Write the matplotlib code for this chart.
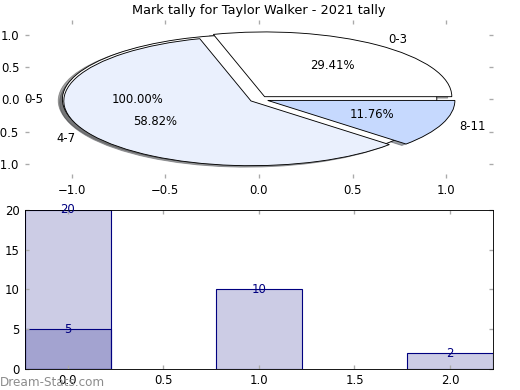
import matplotlib
matplotlib.use('Agg')
import matplotlib.pyplot as plt

# pie data
outer_labels = ['0-5']
outer_values = [17]
pie_labels = ['0-3', '4-7', '8-11']
pie_values = [5, 10, 2]
pie_colors = ['white', '#eaf0fd', '#c6d9fe']

# bar data
bar_x = [0, 1, 2]
bar_values = [20, 10, 2]
bar_x2 = [0]
bar_values2 = [5]

plt.rcParams['font.size'] = 10.5

fig = plt.figure(figsize=(6.5, 4.875), dpi=80)
ax1 = fig.add_axes([0.048, 0.543, 0.900, 0.405])
ax2 = fig.add_axes([0.048, 0.054, 0.900, 0.408])

# 饼图
wp = dict(edgecolor='black', linewidth=0.8)
ax1.pie(outer_values, labels=outer_labels, explode=[0.05], colors=['white'],
        autopct='%.2f%%', shadow=True, frame=True, wedgeprops=wp)
ax1.pie(pie_values, labels=pie_labels, explode=[0.05] * 3, colors=pie_colors,
        autopct='%.2f%%', shadow=True, frame=True, wedgeprops=wp)
ax1.set_aspect('auto')
ax1.set_xlim(-1.25, 1.25)
ax1.set_ylim(-1.22, 1.22)
ax1.set_xticks([-1.0, -0.5, 0.0, 0.5, 1.0])
ax1.set_yticks([-1.0, -0.5, 0.0, 0.5, 1.0])
for s in ax1.spines.values():
    s.set_visible(False)
ax1.set_title('Mark tally for Taylor Walker - 2021 tally', fontsize=11.6)

# 柱状图
ax2.bar(bar_x, bar_values, width=0.45, color='navy', alpha=0.2)
ax2.bar(bar_x, bar_values, width=0.45, fill=False, edgecolor='navy', linewidth=1)
ax2.bar(bar_x2, bar_values2, width=0.45, color='navy', alpha=0.2)
ax2.bar(bar_x2, bar_values2, width=0.45, fill=False, edgecolor='navy', linewidth=1)
for x, v in zip(bar_x + bar_x2, bar_values + bar_values2):
    ax2.text(x, v, str(v), ha='center', va='center', color='navy')
ax2.set_xlim(-0.225, 2.225)
ax2.set_ylim(0, 20)
ax2.set_xticks([0.0, 0.5, 1.0, 1.5, 2.0])
ax2.set_yticks([0, 5, 10, 15, 20])

for ax in (ax1, ax2):
    ax.tick_params(direction='in', length=4, width=1.2, color='#aaaaaa',
                   top=True, right=True, pad=5)

fig.text(0.0, 0.01, 'Dream-Stats.com', color='#8c8c8c', fontsize=12,
         fontstretch='condensed')

fig.savefig('out.png', dpi=80)
